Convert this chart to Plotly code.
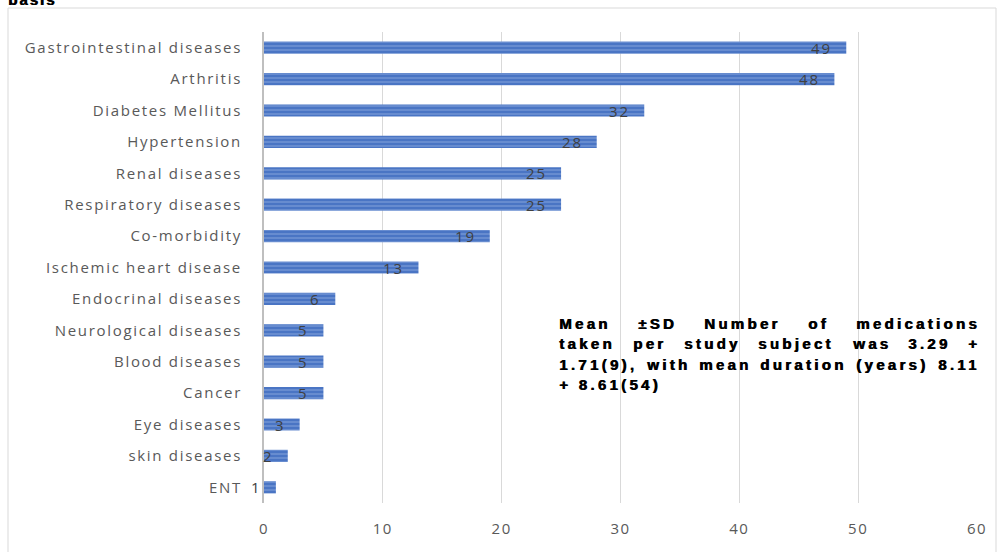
import plotly.graph_objects as go

categories = ["Gastrointestinal diseases", "Arthritis", "Diabetes Mellitus", "Hypertension",
              "Renal diseases", "Respiratory diseases", "Co-morbidity", "Ischemic heart disease",
              "Endocrinal diseases", "Neurological diseases", "Blood diseases", "Cancer",
              "Eye diseases", "skin diseases", "ENT"]
values = [49, 48, 32, 28, 25, 25, 19, 13, 6, 5, 5, 5, 3, 2, 1]
x_ticks = [0, 10, 20, 30, 40, 50, 60]
note_lines = [
    "Mean ±SD Number of medications",
    "taken per study subject was 3.29 +",
    "1.71(9), with mean duration (years) 8.11",
    "+ 8.61(54)",
]

W, H = 1002, 552
L, R, T, B = 264, 977, 32, 503

def px(x):
    return (x - L) / (R - L)

def py(y):
    return (B - y) / (B - T)

def ls(t, s):
    return f"<span style='letter-spacing:{s}px'>{t}</span>"

fig = go.Figure()
fig.add_trace(go.Bar(
    y=categories, x=values, orientation="h", width=0.39,
    marker=dict(color="#4a75c4", line=dict(width=0),
                pattern=dict(shape="-", fgcolor="#a9c1ea", size=4, solidity=0.3)),
    hoverinfo="skip",
))

font_lbl = "Open Sans, Noto Sans, sans-serif"
annotations = []
for c, v in zip(categories, values):
    annotations.append(dict(x=v, y=c, xref="x", yref="y", text=ls(str(v), 2), showarrow=False,
                            xanchor="right", yanchor="middle", xshift=-12,
                            font=dict(family=font_lbl, size=15, color="#404040")))

# Arial/Liberation Sans Bold advance widths (1/1000 em) for justified placement
AW = {" ": 278, "(": 333, ")": 333, "+": 584, ",": 278, ".": 278, "±": 549,
      "D": 722, "M": 833, "N": 722, "S": 667, "a": 556, "b": 611, "c": 556, "d": 611,
      "e": 556, "f": 333, "h": 611, "i": 278, "j": 278, "k": 556, "l": 278, "m": 889,
      "n": 611, "o": 611, "p": 611, "r": 389, "s": 556, "t": 333, "u": 611, "w": 778,
      "y": 556}
FS, LSP = 15, 3.3
X0, X1 = 558, 979

def wwidth(w):
    return sum(AW.get(ch, 556) for ch in w) * FS / 1000 + LSP * len(w)

note_font = dict(family="Liberation Sans, Arial, sans-serif", size=FS, color="#000000",
                 weight="bold", shadow="0.7px 0px 0px #000000")
line_y = [323, 343.5, 364, 384.5]
for i, line in enumerate(note_lines):
    yy = line_y[i]
    if i < len(note_lines) - 1:
        words = line.split(" ")
        widths = [wwidth(w) for w in words]
        gap = (X1 - X0 - sum(widths)) / (len(words) - 1)
        x = X0
        for w, wd in zip(words, widths):
            annotations.append(dict(x=px(x), y=py(yy), xref="paper", yref="paper",
                                    text="<b>" + ls(w, LSP) + "</b>",
                                    showarrow=False, xanchor="left", yanchor="middle",
                                    font=note_font, borderpad=0))
            x += wd + gap
    else:
        annotations.append(dict(x=px(X0), y=py(yy), xref="paper", yref="paper",
                                text="<b>" + ls(line, LSP) + "</b>",
                                showarrow=False, xanchor="left", yanchor="middle",
                                font=note_font, borderpad=0))

annotations.append(dict(x=px(7), y=py(9), xref="paper", yref="paper", text="<b>" + ls("basis", 2) + "</b>",
                        showarrow=False, xanchor="left", yanchor="bottom", borderpad=0,
                        font=dict(family="Liberation Sans, Arial, sans-serif", size=15,
                                  color="#000", weight="bold", shadow="0.7px 0px 0px #000000")))

fig.update_layout(
    width=W, height=H,
    margin=dict(l=L, r=W - R, t=T, b=H - B, pad=0),
    paper_bgcolor="white", plot_bgcolor="white",
    showlegend=False,
    annotations=annotations,
    shapes=[dict(type="rect", xref="paper", yref="paper",
                 x0=px(8), x1=px(996), y0=py(560), y1=py(8),
                 line=dict(color="#d9d9d9", width=1), fillcolor="rgba(0,0,0,0)", layer="below")],
    xaxis=dict(range=[0, 60], tickvals=x_ticks, ticktext=[ls(str(t), 1.5) for t in x_ticks],
               showgrid=True, gridcolor="#d9d9d9", gridwidth=1,
               zeroline=False, showline=False, ticks="", ticklabelstandoff=15,
               tickfont=dict(family=font_lbl, size=15, color="#595959")),
    yaxis=dict(categoryorder="array", categoryarray=categories[::-1], autorange=False,
               range=[-0.5, len(categories) - 0.5],
               tickvals=categories, ticktext=[ls(c, 1.7) for c in categories],
               showline=True, linecolor="#bfbfbf", linewidth=2, showgrid=False, zeroline=False,
               ticks="", ticklabelstandoff=17,
               tickfont=dict(family=font_lbl, size=15, color="#595959")),
)

fig.write_html("out.html")
